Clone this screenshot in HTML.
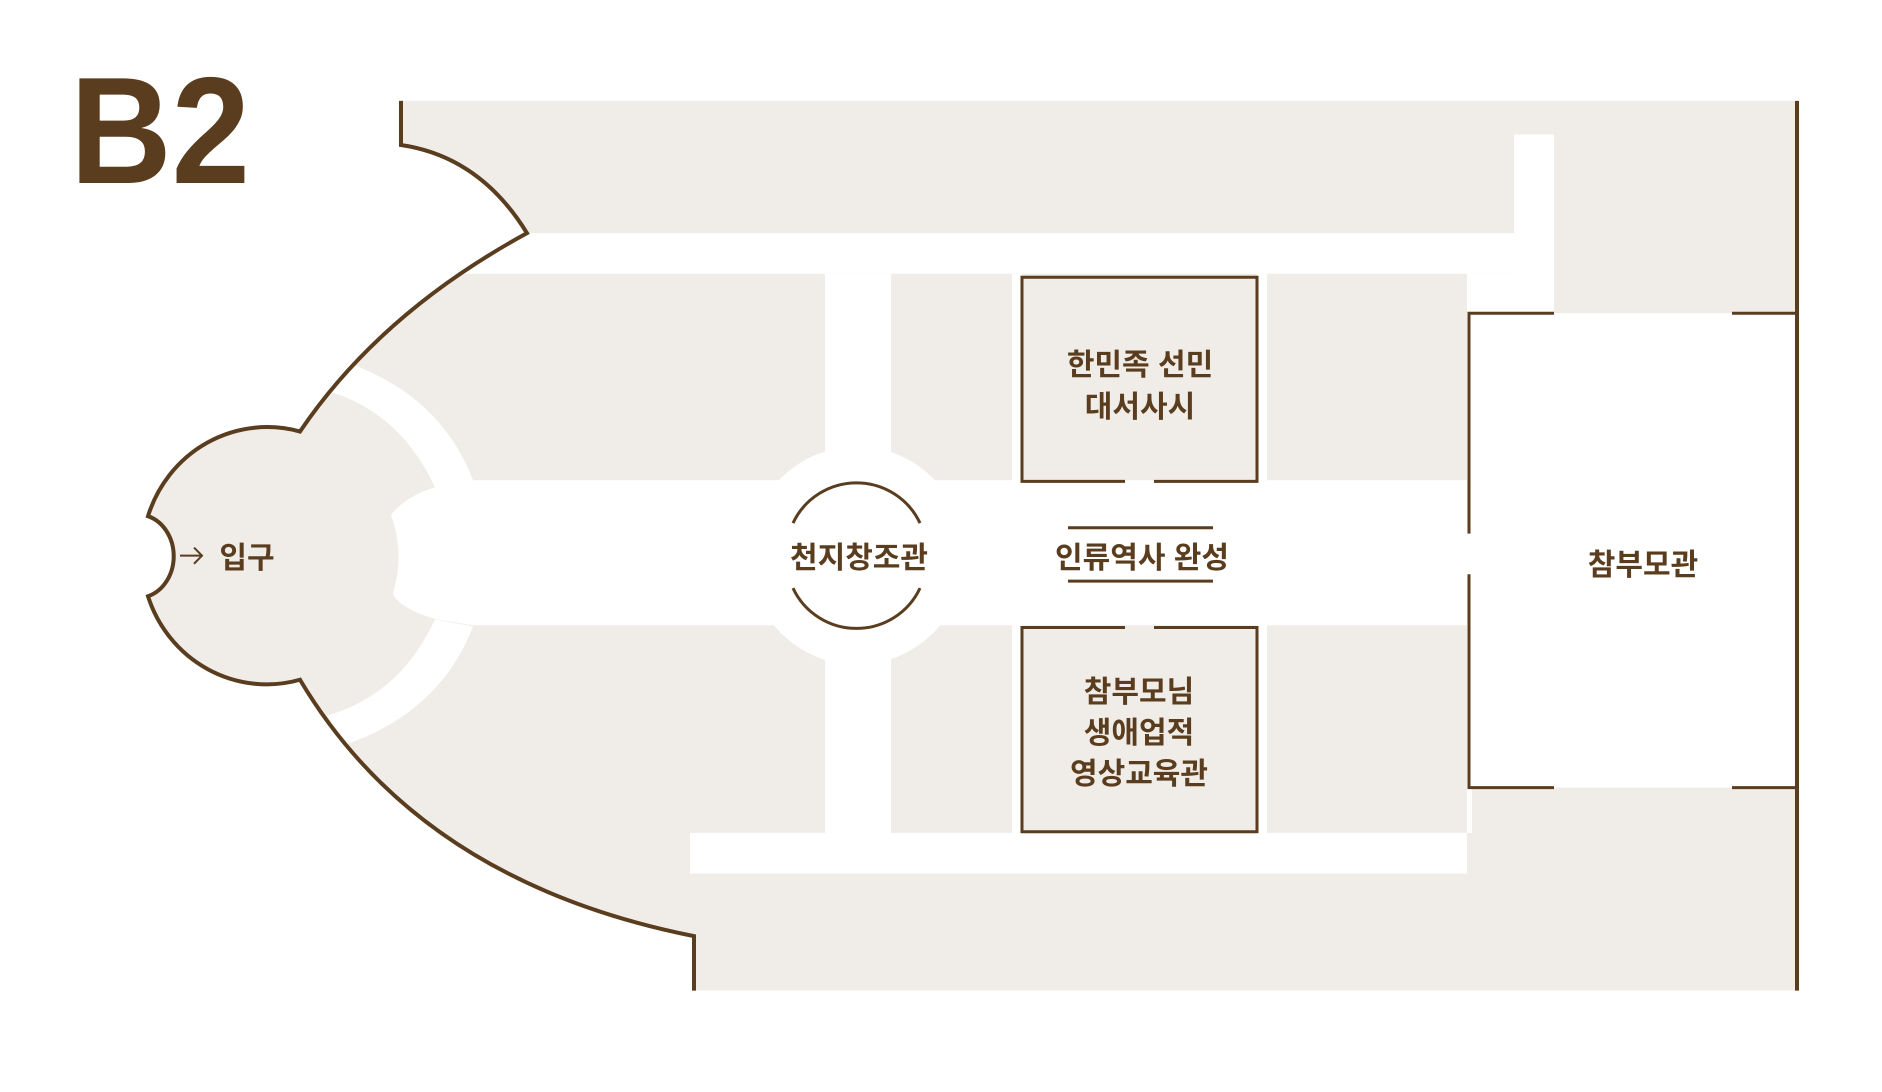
<!DOCTYPE html>
<html><head><meta charset="utf-8"><style>
html,body{margin:0;padding:0;background:#fff;}
svg{display:block}
text{font-family:"Liberation Sans","Noto Sans CJK KR",sans-serif;font-weight:bold;fill:#5a3d1e}
</style></head><body>
<svg width="1882" height="1092" viewBox="0 0 1882 1092" xmlns="http://www.w3.org/2000/svg">
<text x="70" y="183" font-size="152" textLength="180" lengthAdjust="spacingAndGlyphs">B2</text>
<g transform="scale(1,1.16)">
<path d="M401,87 L401,125 Q480,135 527,201 Q380,270 300,372 A125,110 0 0 0 148,445 A36,36 0 0 1 148,514 A125,110 0 0 0 300,586 Q420,760 694,807 L694,854 L1797,854 L1797,87 Z" fill="#f0ede8"/>
<g fill="#fff">
<rect x="400" y="201" width="1154" height="35"/>
<rect x="1514" y="116" width="40" height="154"/>
<rect x="1467" y="236" width="87" height="34"/>
<rect x="825" y="236" width="66" height="482"/>
<rect x="690" y="718" width="777" height="35"/>
<rect x="1012" y="236" width="10" height="482"/>
<rect x="1257" y="236" width="10" height="482"/>
<rect x="1467" y="236" width="5" height="482"/>
<path d="M473,414 L1470,414 L1470,539 L473,539 L437,534 Q400,525 393,512 Q405,477 391,444 Q405,428 435,420 Z"/>
<path d="M345,312 Q440,340 473,414 L435,420 Q400,355 327,337 Z"/>
<path d="M345,642 Q440,614 473,540 L435,534 Q400,599 327,617 Z"/>
<ellipse cx="857" cy="479" rx="108" ry="94"/>
<rect x="1469" y="270" width="327" height="409"/>
</g>
<g fill="none" stroke="#5a3d1e" stroke-width="4">
<path vector-effect="non-scaling-stroke" d="M401,87 L401,125 Q480,135 527,201 Q380,270 300,372 A125,110 0 0 0 148,445 A36,36 0 0 1 148,514 A125,110 0 0 0 300,586 Q420,760 694,807 L694,854"/>
<line vector-effect="non-scaling-stroke" x1="1797" y1="87" x2="1797" y2="854"/>
</g>
<g fill="none" stroke="#5a3d1e" stroke-width="3">
<path vector-effect="non-scaling-stroke" d="M793,451 A70,60 0 0 1 920,451"/>
<path vector-effect="non-scaling-stroke" d="M793,507 A70,60 0 0 0 920,507"/>
<path vector-effect="non-scaling-stroke" d="M1125,415 L1022,415 L1022,239 L1257,239 L1257,415 L1154,415"/>
<path vector-effect="non-scaling-stroke" d="M1125,541 L1022,541 L1022,717 L1257,717 L1257,541 L1154,541"/>
<line vector-effect="non-scaling-stroke" x1="1068" y1="455" x2="1213" y2="455"/>
<line vector-effect="non-scaling-stroke" x1="1068" y1="501" x2="1213" y2="501"/>
<path vector-effect="non-scaling-stroke" d="M1554,270 L1469,270 L1469,460 M1469,495 L1469,679 L1554,679 M1732,270 L1796,270 M1732,679 L1796,679"/>
<path vector-effect="non-scaling-stroke" d="M180,479 L202,479 M194,472 L202,479 L194,486" stroke-width="2"/>
</g>
</g>
<g font-size="30" text-anchor="middle">
<text x="247" y="568">입구</text>
<text x="859" y="568">천지창조관</text>
<text x="1140" y="375">한민족 선민</text>
<text x="1140" y="417">대서사시</text>
<text x="1142" y="568">인류역사 완성</text>
<text x="1139" y="702">참부모님</text>
<text x="1139" y="743">생애업적</text>
<text x="1139" y="784">영상교육관</text>
<text x="1643" y="575">참부모관</text>
</g>
</svg>
</body></html>
